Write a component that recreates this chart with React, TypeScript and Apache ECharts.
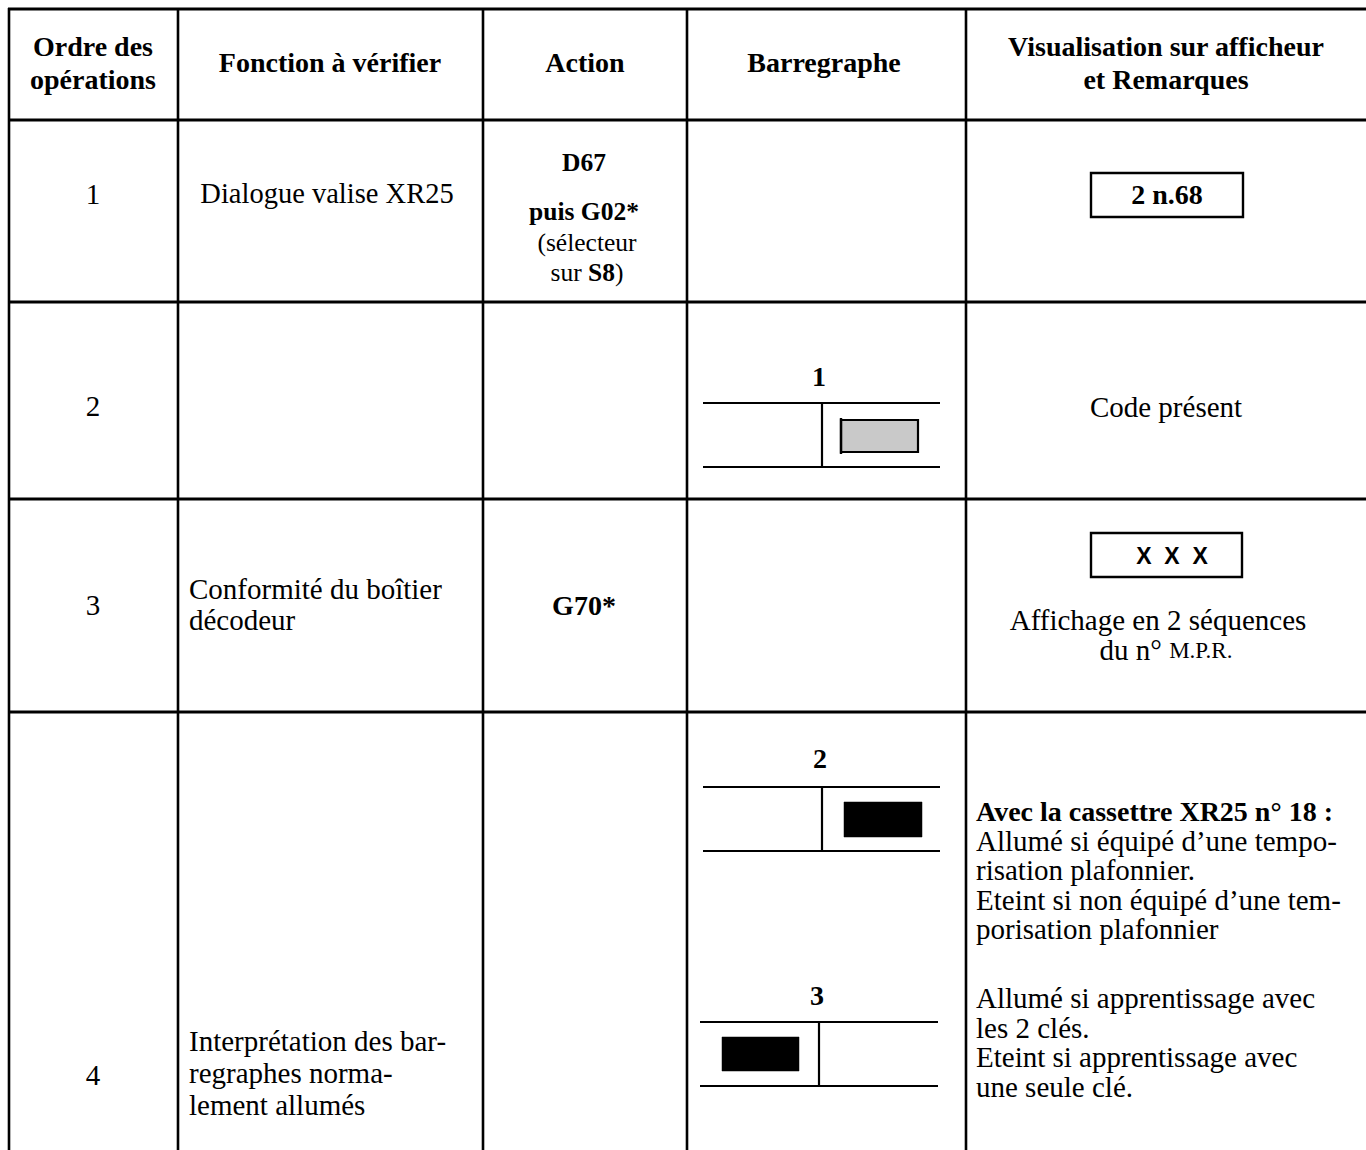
import React, { useEffect, useRef } from "react";
import * as echarts from "echarts";

// ---------- content ----------
const headerLines: string[][] = [
  ["Ordre des", "opérations"],
  ["Fonction à vérifier"],
  ["Action"],
  ["Barregraphe"],
  ["Visualisation sur afficheur", "et Remarques"],
];
const orderNumbers: string[] = ["1", "2", "3", "4"];
const functionRow1: string[] = ["Dialogue valise XR25"];
const functionRow3: string[] = ["Conformité du boîtier", "décodeur"];
const functionRow4: string[] = ["Interprétation des bar-", "regraphes norma-", "lement allumés"];
const actionRow1: string[] = ["{b|D67}", "{b|puis G02*}", "(sélecteur", "sur {b|S8})"];
const actionRow3: string[] = ["G70*"];
const displayRow1 = "2 n.68";
const displayRow3 = "X  X  X";
const remarkRow2 = "Code présent";
const remarkRow3: string[] = ["Affichage en 2 séquences", "du n° {s|M.P.R.}"];
const remarkRow4a: string[] = [
  "{b|Avec la cassettre XR25 n° 18 :}",
  "Allumé si équipé d’une tempo-",
  "risation plafonnier.",
  "Eteint si non équipé d’une tem-",
  "porisation plafonnier",
];
const remarkRow4b: string[] = [
  "Allumé si apprentissage avec",
  "les 2 clés.",
  "Eteint si apprentissage avec",
  "une seule clé.",
];
const barLabels: string[] = ["1", "2", "3"];
const barFill: string[] = ["#c9c9c9", "#000000", "#000000"];

// ---------- layout ----------
const SERIF = '"Liberation Serif", "Times New Roman", serif';
const SANS = '"Liberation Sans", Arial, sans-serif';
const BODY = 29;
const BOLD = 28;
const HEAD = 28;
const ACT = 25.5;
const REM_STEP = 29.6;
const colX = [9, 178, 483, 687, 966];
const rowY = [9, 120, 302, 499, 712];
const barDefs = [
  { lx: 819, ly: 376, x1: 703, x2: 940, top: 403, bot: 467, div: 822, rect: [841, 420, 77, 32] },
  { lx: 820, ly: 758, x1: 703, x2: 940, top: 787, bot: 851, div: 822, rect: [844, 802, 78, 35] },
  { lx: 817, ly: 995, x1: 700, x2: 938, top: 1022, bot: 1086, div: 819, rect: [722, 1037, 77, 34] },
];

const richBase = (size: number) => ({
  b: { fontFamily: SERIF, fontSize: size === ACT ? ACT : BOLD, fontWeight: "bold", fill: "#000" },
  s: { fontFamily: SERIF, fontSize: 23, fill: "#000" },
});

function txt(
  x: number,
  y: number,
  text: string,
  o: { size?: number; weight?: string; align?: string; family?: string } = {}
) {
  const align = o.align || "center";
  const size = o.size || (o.weight === "bold" ? BOLD : BODY);
  return {
    type: "text",
    x,
    y,
    silent: true,
    style: {
      text,
      fontFamily: o.family || SERIF,
      fontSize: size,
      fontWeight: o.weight || "normal",
      fill: "#000",
      align,
      textAlign: align,
      verticalAlign: "middle",
      textVerticalAlign: "middle",
      rich: richBase(size),
    },
  };
}

function line(x1: number, y1: number, x2: number, y2: number, w = 2.6) {
  return {
    type: "line",
    silent: true,
    shape: { x1, y1, x2, y2 },
    style: { stroke: "#000", lineWidth: w },
  };
}

function rect(x: number, y: number, w: number, h: number, fill: string, lw = 2.4) {
  return {
    type: "rect",
    silent: true,
    shape: { x, y, width: w, height: h },
    style: { fill, stroke: "#000", lineWidth: lw },
  };
}

function buildElements() {
  const els: any[] = [];
  // grid
  colX.forEach((x) => els.push(line(x, 8, x, 1150)));
  rowY.forEach((y, i) => els.push(line(8, y, 1366, y, i < 2 ? 3 : 2.8)));

  // headers
  const headCenters = [93, 330, 585, 824, 1166];
  headerLines.forEach((lines, c) => {
    if (lines.length === 1) {
      els.push(txt(headCenters[c], 62, lines[0], { size: HEAD, weight: "bold" }));
    } else {
      els.push(txt(headCenters[c], 46, lines[0], { size: HEAD, weight: "bold" }));
      els.push(txt(headCenters[c], 79, lines[1], { size: HEAD, weight: "bold" }));
    }
  });

  // column 1 numbers
  const numY = [194, 406, 605, 1075];
  orderNumbers.forEach((n, i) => els.push(txt(93, numY[i], n)));

  // column 2
  els.push(txt(327, 193, functionRow1[0], { size: 28.5 }));
  functionRow3.forEach((t, i) => els.push(txt(189, 589 + i * 31, t, { align: "left" })));
  functionRow4.forEach((t, i) => els.push(txt(189, 1041 + i * 32, t, { align: "left" })));

  // column 3
  els.push(txt(584, 162, actionRow1[0], { size: ACT }));
  els.push(txt(584, 211, actionRow1[1], { size: ACT }));
  els.push(txt(587, 242, actionRow1[2], { size: ACT }));
  els.push(txt(587, 272, actionRow1[3], { size: ACT }));
  els.push(txt(584, 605, actionRow3[0], { weight: "bold" }));

  // column 4: bar graphs
  barDefs.forEach((b, i) => {
    els.push(txt(b.lx, b.ly, barLabels[i], { weight: "bold" }));
    els.push(line(b.x1, b.top, b.x2, b.top, 2.2));
    els.push(line(b.x1, b.bot, b.x2, b.bot, 2.2));
    els.push(line(b.div, b.top, b.div, b.bot, 2.2));
    const [rx, ry, rw, rh] = b.rect;
    els.push(rect(rx, ry, rw, rh, barFill[i], i === 0 ? 2.2 : 0.5));
    if (i === 0) els.push(line(rx, ry - 2, rx, ry + rh + 2, 2.4));
  });

  // column 5
  els.push(rect(1091, 173, 152, 44, "#fff", 2.4));
  els.push(txt(1167, 194, displayRow1, { weight: "bold" }));
  els.push(txt(1166, 407, remarkRow2));
  els.push(rect(1091, 533, 151, 44, "#fff", 2.4));
  els.push(txt(1172, 556, displayRow3, { family: SANS, size: 23, weight: "bold" }));
  els.push(txt(1158, 620, remarkRow3[0]));
  els.push(txt(1166, 650, remarkRow3[1]));
  remarkRow4a.forEach((t, i) => els.push(txt(976, 811 + i * REM_STEP, t, { align: "left" })));
  remarkRow4b.forEach((t, i) => els.push(txt(976, 998 + i * REM_STEP, t, { align: "left" })));
  return els;
}

export default function App() {
  const ref = useRef<HTMLDivElement>(null);
  useEffect(() => {
    document.body.style.margin = "0";
    if (!ref.current) return;
    const chart = echarts.init(ref.current, undefined, { renderer: "svg" });
    chart.setOption({
      animation: false,
      backgroundColor: "#ffffff",
      graphic: { elements: buildElements() },
    });
    return () => chart.dispose();
  }, []);
  return <div ref={ref} style={{ width: 1366, height: 1150 }} />;
}
